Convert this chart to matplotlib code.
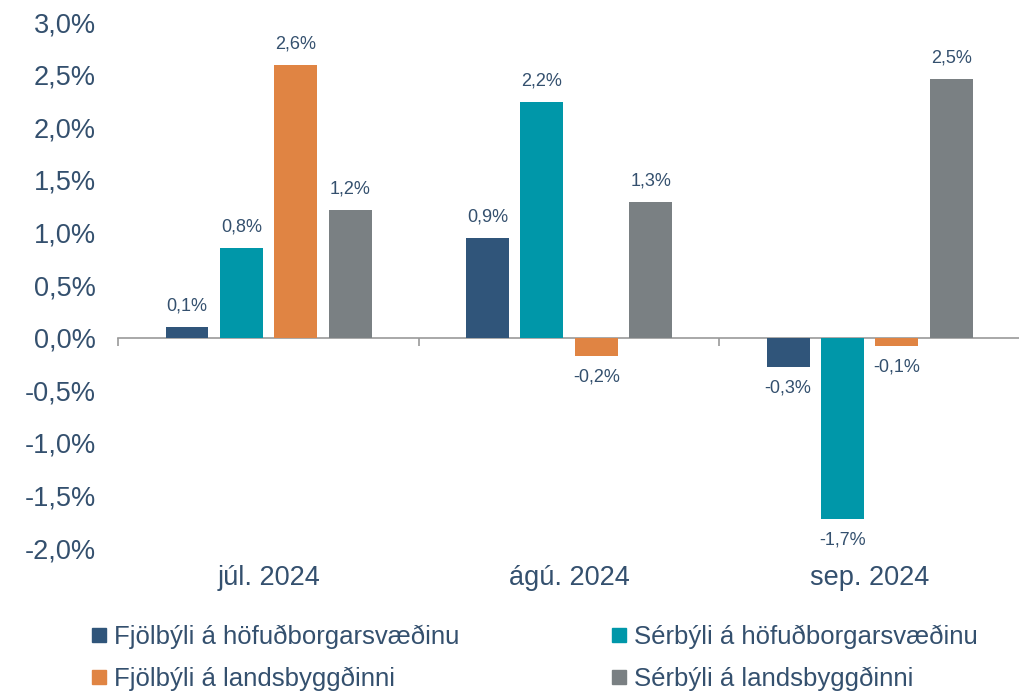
import numpy as np
import matplotlib.pyplot as plt
from matplotlib.transforms import blended_transform_factory
from matplotlib.lines import Line2D

months = ['júl. 2024', 'ágú. 2024', 'sep. 2024']
series = ['Fjölbýli á höfuðborgarsvæðinu', 'Sérbýli á höfuðborgarsvæðinu',
          'Fjölbýli á landsbyggðinni', 'Sérbýli á landsbyggðinni']
fjol_hofud = [0.10, 0.95, -0.28]
ser_hofud = [0.85, 2.24, -1.72]
fjol_lands = [2.59, -0.17, -0.08]
ser_lands = [1.21, 1.29, 2.46]
colors = ['#30557A', '#0097A9', '#E08443', '#7A8083']
ytick_vals = [-2.0, -1.5, -1.0, -0.5, 0.0, 0.5, 1.0, 1.5, 2.0, 2.5, 3.0]

txt = '#34506E'
plt.rcParams['font.family'] = ['Liberation Sans', 'DejaVu Sans']

fig = plt.figure(figsize=(10.2, 6.93), dpi=100)
ax = fig.add_axes([0.116, 0.209, 0.884, 0.759])

data = [fjol_hofud, ser_hofud, fjol_lands, ser_lands]
x = np.arange(len(months))
step = 0.181
w = 0.143
for i, vals in enumerate(data):
    pos = x + (i - 1.5) * step
    bars = ax.bar(pos, vals, w, color=colors[i], label=series[i], zorder=2)
    for b, v in zip(bars, vals):
        lab = f'{v:.1f}%'.replace('.', ',')
        if v >= 0:
            ax.annotate(lab, (b.get_x() + b.get_width() / 2, v), xytext=(0, 9),
                        textcoords='offset points', ha='center', va='bottom',
                        fontsize=13, color=txt)
        else:
            ax.annotate(lab, (b.get_x() + b.get_width() / 2, v), xytext=(0, -9),
                        textcoords='offset points', ha='center', va='top',
                        fontsize=13, color=txt)

ax.set_xlim(-0.5, 2.5)
ax.set_ylim(-2.0, 3.0)
ax.set_yticks(ytick_vals)
ax.set_yticklabels([f'{t:.1f}%'.replace('.', ',') for t in ytick_vals],
                   fontsize=19.5, color=txt)
ax.tick_params(axis='y', length=0, pad=16)

for s in ['top', 'right', 'left']:
    ax.spines[s].set_visible(False)
ax.spines['bottom'].set_position(('data', 0))
ax.spines['bottom'].set_color('#9A9A9A')
ax.spines['bottom'].set_linewidth(1.2)
ax.spines['bottom'].set_zorder(1)
ax.set_xticks(x)
ax.set_xticklabels([])
ax.tick_params(axis='x', which='major', length=0)
ax.set_xticks([-0.5, 0.5, 1.5, 2.5], minor=True)
ax.tick_params(axis='x', which='minor', length=6, width=1.2, color='#9A9A9A', direction='out')

tr = blended_transform_factory(ax.transData, ax.transAxes)
for xi, m in zip(x, months):
    ax.text(xi, -0.032, m, transform=tr, ha='center', va='top', fontsize=19.5, color=txt)

order = [0, 2, 1, 3]
handles = [Line2D([], [], marker='s', linestyle='', markersize=10,
                  markerfacecolor=colors[i], markeredgecolor=colors[i]) for i in order]
fig.legend(handles, [series[i] for i in order], ncol=2, loc='lower left',
           bbox_to_anchor=(0.064, -0.03), frameon=False, handletextpad=0.2,
           handlelength=0.8, columnspacing=5.8, labelspacing=0.68,
           prop={'size': 18.5}, labelcolor=txt)

fig.savefig('out.png', dpi=100)
